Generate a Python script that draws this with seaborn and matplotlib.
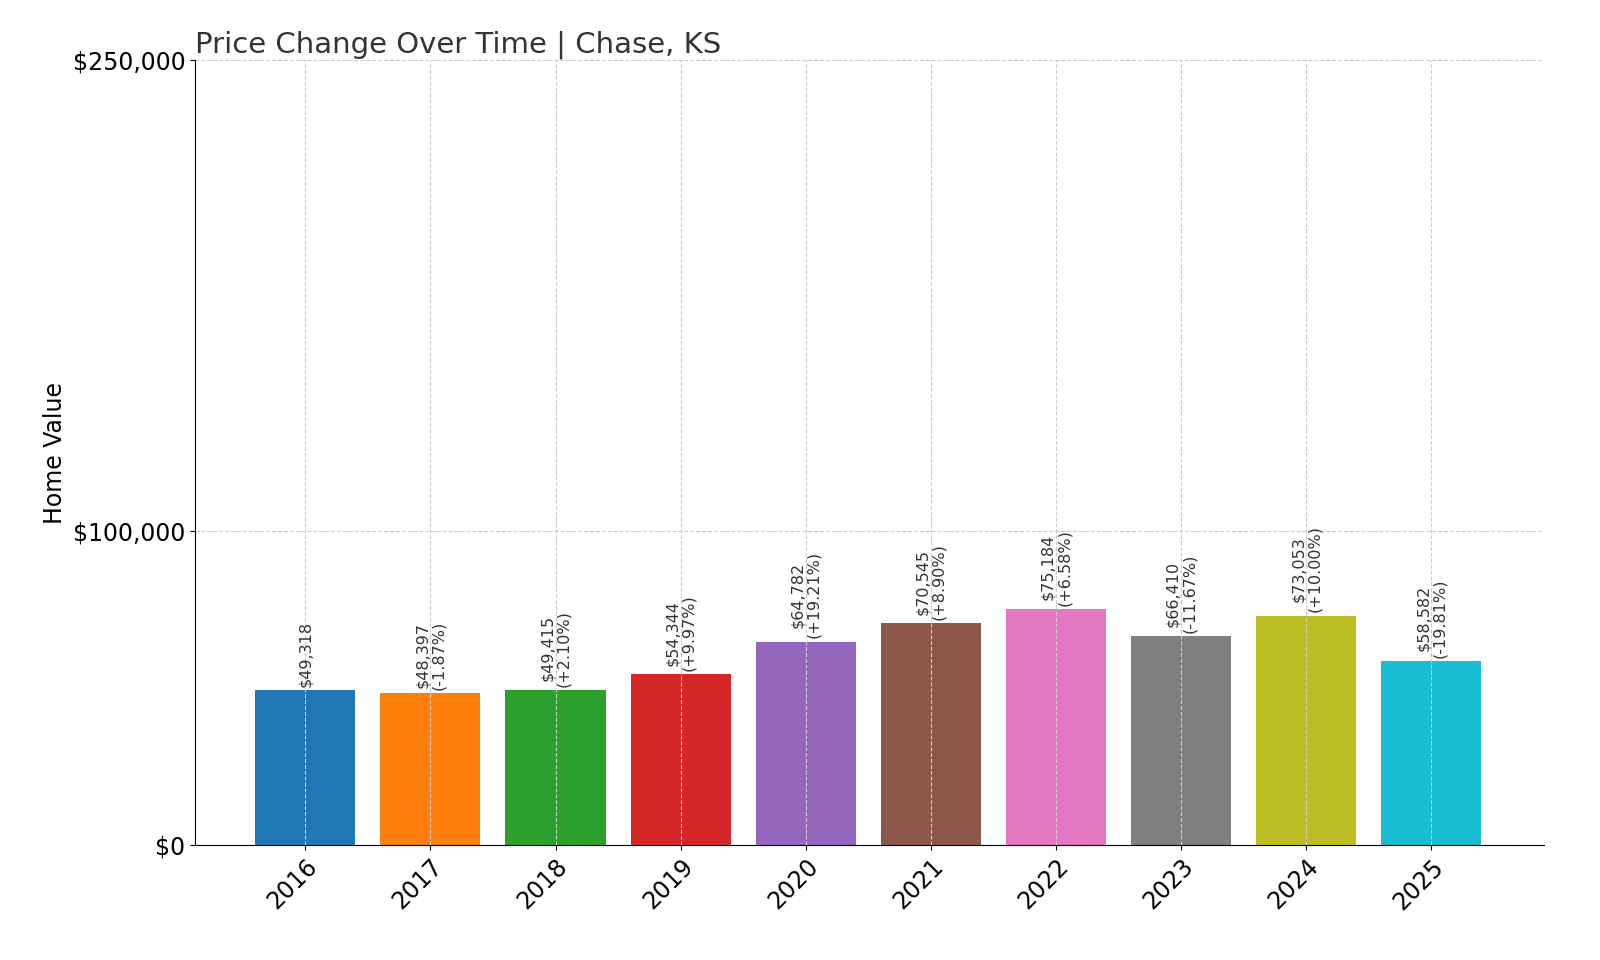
import matplotlib
matplotlib.use("Agg")
import matplotlib.pyplot as plt
import seaborn as sns
import pandas as pd

years = ["2016","2017","2018","2019","2020","2021","2022","2023","2024","2025"]
values = [49318,48397,49415,54344,64782,70545,75184,66410,73053,58582]
changes = [None,"-1.87%","+2.10%","+9.97%","+19.21%","+8.90%","+6.58%","-11.67%","+10.00%","-19.81%"]
yticks = [0,100000,250000]
ytick_labels = ["$0","$100,000","$250,000"]

df = pd.DataFrame({"year": years, "value": values})
fig = plt.figure(figsize=(16,9.6), dpi=100)
ax = fig.add_axes([0.122,0.12,0.843,0.817])
sns.barplot(data=df, x="year", y="value", hue="year", palette="tab10", legend=False, ax=ax, width=0.8, saturation=1, zorder=2)
ax.set_ylim(0,250000)
ax.set_xlim(-0.88, 9.9)
ax.set_yticks(yticks)
ax.set_yticklabels(ytick_labels, fontsize=17)
ax.set_xticks(range(len(years)))
ax.set_xticklabels(years, rotation=45, ha="right", fontsize=17, rotation_mode="anchor")
ax.set_xlabel("")
ax.set_ylabel("Home Value", fontsize=17)
ax.set_title("Price Change Over Time | Chase, KS", loc="left", fontsize=21, color="#333333")
ax.grid(True, linestyle="--", color="#cccccc", zorder=0)
ax.set_axisbelow(False)
for s in ["top","right"]:
    ax.spines[s].set_visible(False)
for i,(v,c) in enumerate(zip(values,changes)):
    txt = f"${v:,}" if c is None else f"${v:,}\n({c})"
    ax.text(i, v+1000, txt, rotation=90, ha="center", va="bottom", fontsize=11.5, color="#333333", linespacing=1.1)
fig.savefig("out.png", dpi=100)
